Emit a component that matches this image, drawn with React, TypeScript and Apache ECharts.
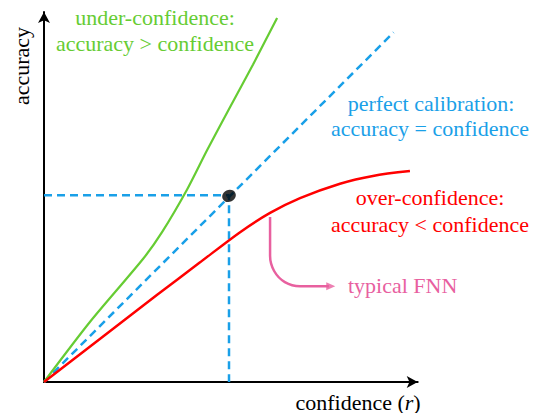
import React, { useEffect, useRef } from "react";
import * as echarts from "echarts";

// ---- data (confidence, accuracy) ----
const underConfidence: [number, number][] = [
  [0, 0], [0.124, 0.162], [0.268, 0.333], [0.319, 0.405], [0.386, 0.519],
  [0.441, 0.627], [0.503, 0.743], [0.565, 0.858], [0.63, 0.984],
];
const perfectCalibration: [number, number][] = [[0, 0], [0.945, 0.945]];
const overConfidence: [number, number][] = [
  [0, 0], [0.305, 0.235], [0.42, 0.322], [0.53, 0.405], [0.611, 0.457],
  [0.692, 0.497], [0.8, 0.536], [0.889, 0.557], [0.989, 0.57],
];
const referencePoint: [number, number][] = [[0.5, 0.503]];
const projection: [number, number][] = [[0, 0.505], [0.5, 0.505], [0.5, 0]];
const fnnArrowShaft: [number, number][] = [
  [0.611, 0.446], [0.611, 0.341], [0.622, 0.3], [0.651, 0.27], [0.692, 0.259], [0.77, 0.259],
];
const fnnArrowHead: [number, number][] = [[0.775, 0.259]];

const xAxisTitle = "confidence ({i|r})";
const yAxisTitle = "accuracy";
const underLabel = ["under-confidence:", "accuracy > confidence"];
const perfectLabel = ["perfect calibration:", "accuracy = confidence"];
const overLabel = ["over-confidence:", "accuracy < confidence"];
const fnnLabel = "typical FNN";

const GREEN = "#66cc33";
const BLUE = "#1aa0e8";
const RED = "#ff0000";
const PINK = "#e8609f";
const FONT = '"Liberation Serif", "Times New Roman", serif';

export default function App() {
  const ref = useRef<HTMLDivElement>(null);
  useEffect(() => {
    document.body.style.margin = "0";
    if (!ref.current) return;
    const chart = echarts.init(ref.current, undefined, { renderer: "svg" });
    const txt = (text: string, x: number, y: number, fill: string, align = "center") => ({
      type: "text",
      x,
      y,
      silent: true,
      style: { text, fill, fontSize: 22, fontFamily: FONT, align, verticalAlign: "middle" },
    });
    const axisLine = {
      show: true,
      symbol: ["none", "arrow"],
      symbolSize: [9, 11],
      lineStyle: { color: "#000", width: 2 },
    };
    chart.setOption({
      animation: false,
      grid: { left: 44, top: 12, width: 373.7, height: 370, outerBoundsMode: "none", containLabel: false },
      xAxis: {
        type: "value",
        min: 0,
        max: 1.01,
        name: xAxisTitle,
        nameLocation: "end",
        nameGap: 3,
        nameTextStyle: {
          fontSize: 22,
          fontFamily: FONT,
          color: "#000",
          align: "right",
          verticalAlign: "top",
          padding: [9, 0, 0, 0],
          rich: { i: { fontStyle: "italic", fontSize: 22, fontFamily: FONT, color: "#000" } },
        },
        axisLine,
        axisTick: { show: false },
        axisLabel: { show: false },
        splitLine: { show: false },
      },
      yAxis: {
        type: "value",
        min: 0,
        max: 1,
        axisLine,
        axisTick: { show: false },
        axisLabel: { show: false },
        splitLine: { show: false },
      },
      graphic: [
        { ...txt(yAxisTitle, 21, 66, "#000"), rotation: Math.PI / 2 },
        txt(underLabel[0], 155, 17, GREEN),
        txt(underLabel[1], 155, 43, GREEN),
        txt(perfectLabel[0], 431, 103, BLUE),
        txt(perfectLabel[1], 430, 128, BLUE),
        txt(overLabel[0], 430, 197, RED),
        txt(overLabel[1], 430, 224, RED),
        txt(fnnLabel, 348, 285, PINK, "left"),
      ],
      series: [
        {
          type: "line",
          data: perfectCalibration,
          symbol: "none",
          silent: true,
          lineStyle: { color: BLUE, width: 2.5, type: [8, 5] },
          z: 1,
        },
        {
          type: "line",
          data: projection,
          symbol: "none",
          silent: true,
          lineStyle: { color: BLUE, width: 2.5, type: [8, 5] },
          z: 1,
        },
        {
          type: "line",
          data: underConfidence,
          symbol: "none",
          smooth: 0.25,
          silent: true,
          lineStyle: { color: GREEN, width: 2.2 },
          z: 2,
        },
        {
          type: "line",
          data: overConfidence,
          symbol: "none",
          smooth: 0.3,
          silent: true,
          lineStyle: { color: RED, width: 2.5 },
          z: 2,
        },
        {
          type: "line",
          data: fnnArrowShaft,
          symbol: "none",
          smooth: 0.3,
          silent: true,
          lineStyle: { color: PINK, width: 2.5 },
          z: 2,
        },
        {
          type: "scatter",
          data: fnnArrowHead,
          symbol: "triangle",
          symbolRotate: -90,
          symbolSize: [8, 9],
          silent: true,
          itemStyle: { color: PINK },
          z: 3,
        },
        {
          type: "scatter",
          data: referencePoint,
          symbol: "circle",
          symbolSize: [14, 12],
          symbolRotate: 25,
          silent: true,
          itemStyle: { color: "#000" },
          z: 4,
        },
      ],
    });
    return () => chart.dispose();
  }, []);
  return <div ref={ref} style={{ width: 534, height: 413 }} />;
}
